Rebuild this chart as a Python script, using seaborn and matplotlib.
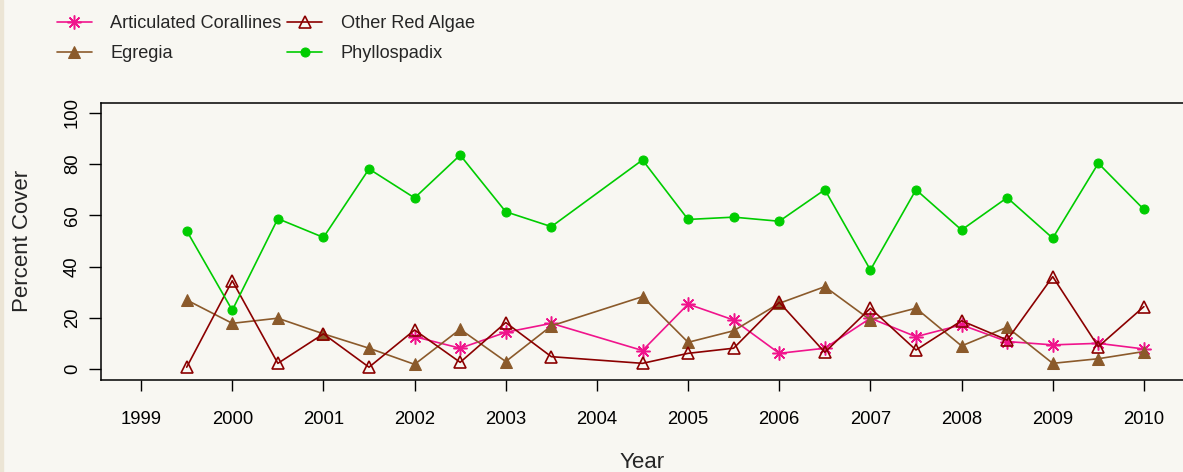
import matplotlib
matplotlib.use("Agg")
import matplotlib.pyplot as plt
import seaborn as sns
from matplotlib.patches import Rectangle

# survey dates (no survey in 2004.0)
years = [1999.5, 2000, 2000.5, 2001, 2001.5, 2002, 2002.5, 2003, 2003.5,
         2004.5, 2005, 2005.5, 2006, 2006.5, 2007, 2007.5, 2008, 2008.5,
         2009, 2009.5, 2010]
coralline_years = years[5:]

articulated_corallines = [12.7, 8.2, 14.4, 17.9, 7.3, 25.4, 19.2, 6.2, 8.2,
                          19.9, 12.7, 17.3, 10.8, 9.5, 10.1, 7.9]
egregia = [27.0, 17.9, 19.9, 13.8, 8.2, 1.9, 15.6, 3.0, 16.9, 28.3, 10.5,
           15.0, 25.7, 32.2, 19.2, 23.8, 9.1, 16.4, 2.3, 4.1, 6.9]
other_red_algae = [0.8, 34.5, 2.3, 13.8, 0.8, 15.3, 2.7, 18.2, 4.9, 2.3, 6.2,
                   8.2, 26.1, 6.6, 23.8, 7.5, 18.9, 11.4, 36.1, 8.8, 24.4]
phyllospadix = [54.0, 23.0, 58.7, 51.4, 78.1, 66.8, 83.5, 61.4, 55.6, 81.6,
                58.4, 59.3, 57.7, 70.0, 38.7, 70.0, 54.3, 66.9, 51.1, 80.3, 62.3]

x_ticks = list(range(1999, 2011))
y_ticks = [0, 20, 40, 60, 80, 100]

bg = "#f8f7f2"
sns.set_style("ticks")
plt.rcParams["font.family"] = ["Liberation Sans", "DejaVu Sans"]

fig = plt.figure(figsize=(11.83, 4.72), dpi=100, facecolor=bg)
fig.patches.append(Rectangle((0, 0), 3 / 1183, 1, transform=fig.transFigure,
                             color="#ece5d5", zorder=0))
ax = fig.add_axes([101 / 1183, 92.5 / 472, 1083 / 1183, 277 / 472])
ax.set_facecolor(bg)

sns.lineplot(x=coralline_years, y=articulated_corallines, ax=ax,
             color="#f0148c", lw=1.2, marker=(8, 2, 0), markersize=10,
             markeredgecolor="#f0148c", markeredgewidth=1.1,
             label="Articulated Corallines")
sns.lineplot(x=years, y=egregia, ax=ax, color="#8b5a2b", lw=1.2,
             marker="^", markersize=8, markeredgecolor="#8b5a2b",
             markerfacecolor="#8b5a2b", label="Egregia")
sns.lineplot(x=years, y=other_red_algae, ax=ax, color="#8b0000", lw=1.2,
             marker="^", markersize=9, markeredgecolor="#8b0000",
             markerfacecolor="none", markeredgewidth=1.2,
             label="Other Red Algae")
sns.lineplot(x=years, y=phyllospadix, ax=ax, color="#00cc00", lw=1.2,
             marker="o", markersize=6.5, markeredgecolor="#00cc00",
             markerfacecolor="#00cc00", label="Phyllospadix")

ax.set_xlim(1998.56, 2010.44)
ax.set_ylim(-4, 104)
ax.set_xticks(x_ticks)
ax.set_xticklabels([str(y) for y in x_ticks])
ax.set_yticks(y_ticks)
ax.set_yticklabels([str(y) for y in y_ticks], rotation=90, va="center")
ax.tick_params(axis="x", length=8, width=1, pad=14.5, labelsize=13.3, colors="black")
ax.tick_params(axis="y", length=8.5, width=1, pad=6, labelsize=13.3, colors="black")
ax.set_xlabel("")
ax.set_ylabel("")
for side in ["left", "top", "bottom"]:
    ax.spines[side].set_color("black")
    ax.spines[side].set_linewidth(1.1)
ax.spines["right"].set_visible(False)

fig.text(23 / 1183, 1 - 240.5 / 472, "Percent Cover", rotation=90,
         ha="center", va="center", fontsize=16)
fig.text(642.5 / 1183, 1 - 468.5 / 472, "Year", ha="center", va="baseline",
         fontsize=16)

handles, labels = ax.get_legend_handles_labels()
ax.get_legend().remove()
fig.legend(handles, labels, ncol=2, loc="upper left",
           bbox_to_anchor=(57 / 1183, 1 - 15.5 / 472), frameon=False,
           fontsize=13.1, handlelength=1.92, handletextpad=1.0,
           columnspacing=0.33, labelspacing=0.68, borderpad=0,
           borderaxespad=0)

fig.savefig("out.png", dpi=100, facecolor=bg)
plt.close(fig)
